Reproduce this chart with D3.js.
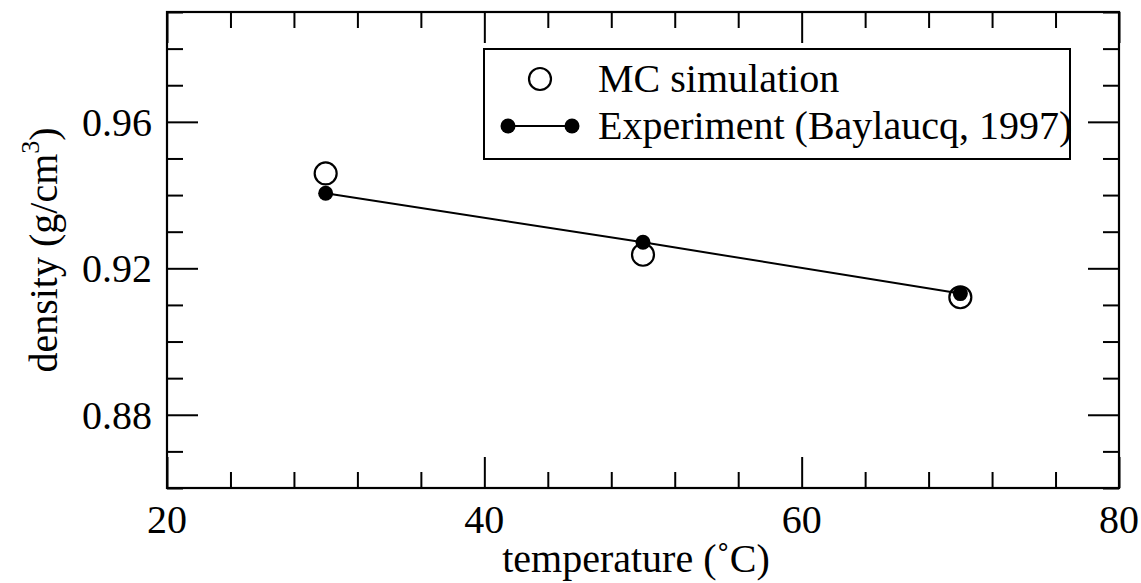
<!DOCTYPE html>
<html>
<head>
<meta charset="utf-8">
<script src="https://cdn.jsdelivr.net/npm/d3@7"></script>
<style>
html,body{margin:0;padding:0;background:#fff;}
svg{display:block;}
text{font-family:"Liberation Serif","Times New Roman",serif;fill:#000;}
</style>
</head>
<body>
<svg id="chart" width="1141" height="583"></svg>
<script>
// ---- data ----
const temperatures = [30, 50, 70];
const mcDensity = [0.9459, 0.9237, 0.9121];
const expDensity = [0.9405, 0.9271, 0.9131];
const xTickLabels = [20, 40, 60, 80];
const yTickLabels = [0.88, 0.92, 0.96];
const legendLabels = ["MC simulation", "Experiment (Baylaucq, 1997)"];

// ---- layout ----
const L = 167, R = 1119, T = 12, B = 488;
const svg = d3.select("#chart");

const x = d3.scaleLinear().domain([20, 80]).range([L, R]);
const y = d3.scaleLinear().domain([0.86, 0.99]).range([B, T]);

const xMinor = d3.range(20, 80.001, 4);
const yMinor = d3.range(0.86, 0.9901, 0.01).map(v => +v.toFixed(2));
const MAJ = 31, MIN = 16;

function tickGroup(axisFn, scale, values, size, transform) {
  const g = svg.append("g").attr("transform", transform)
    .call(axisFn(scale).tickValues(values).tickSize(size).tickFormat(""));
  g.select(".domain").remove();
  g.selectAll(".tick line").attr("stroke", "#000").attr("stroke-width", 2);
  return g;
}

const xMinorOnly = xMinor.filter(v => !xTickLabels.includes(v));
const yMinorOnly = yMinor.filter(v => !yTickLabels.some(m => Math.abs(m - v) < 1e-9));
// bottom / top (inward)
tickGroup(d3.axisBottom, x, xMinorOnly, -MIN, `translate(0,${B})`);
tickGroup(d3.axisBottom, x, xTickLabels, -MAJ, `translate(0,${B})`);
tickGroup(d3.axisTop, x, xMinorOnly, -MIN, `translate(0,${T})`);
tickGroup(d3.axisTop, x, xTickLabels, -MAJ, `translate(0,${T})`);
// left / right (inward)
tickGroup(d3.axisLeft, y, yMinorOnly, -MIN, `translate(${L},0)`);
tickGroup(d3.axisLeft, y, yTickLabels, -MAJ, `translate(${L},0)`);
tickGroup(d3.axisRight, y, yMinorOnly, -MIN, `translate(${R},0)`);
tickGroup(d3.axisRight, y, yTickLabels, -MAJ, `translate(${R},0)`);

// frame
svg.append("rect").attr("x", L).attr("y", T).attr("width", R - L).attr("height", B - T)
  .attr("fill", "none").attr("stroke", "#000").attr("stroke-width", 2.2);

// tick labels
svg.append("g").selectAll("text").data(xTickLabels).join("text")
  .attr("x", d => x(d)).attr("y", B + 45).attr("text-anchor", "middle")
  .attr("font-size", 40).text(d => d);
svg.append("g").selectAll("text").data(yTickLabels).join("text")
  .attr("x", L - 15).attr("y", d => y(d) + 14).attr("text-anchor", "end")
  .attr("font-size", 40).text(d => d.toFixed(2));

// axis titles
svg.append("text").attr("x", 636).attr("y", 572).attr("text-anchor", "middle")
  .attr("font-size", 40).text("temperature (\u02DAC)");
const yl = svg.append("text").attr("transform", `translate(57,${(T + B) / 2}) rotate(-90)`)
  .attr("text-anchor", "middle").attr("font-size", 40);
yl.append("tspan").text("density (g/cm");
yl.append("tspan").attr("font-size", 26).attr("dy", -18).text("3");
yl.append("tspan").attr("dy", 18).text(")");

// MC simulation (open circles)
svg.append("g").selectAll("circle").data(temperatures).join("circle")
  .attr("cx", d => x(d)).attr("cy", (d, i) => y(mcDensity[i])).attr("r", 11)
  .attr("fill", "none").attr("stroke", "#000").attr("stroke-width", 2.2);

// Experiment line + filled circles
const line = d3.line().x(d => x(d[0])).y(d => y(d[1]));
svg.append("path").datum(temperatures.map((t, i) => [t, expDensity[i]]))
  .attr("d", line).attr("fill", "none").attr("stroke", "#000").attr("stroke-width", 2);
svg.append("g").selectAll("circle").data(temperatures).join("circle")
  .attr("cx", d => x(d)).attr("cy", (d, i) => y(expDensity[i])).attr("r", 7.5)
  .attr("fill", "#000");

// legend
const lg = svg.append("g");
lg.append("rect").attr("x", 484).attr("y", 49).attr("width", 586).attr("height", 110)
  .attr("fill", "#fff").attr("stroke", "#000").attr("stroke-width", 2);
lg.append("circle").attr("cx", 540).attr("cy", 79).attr("r", 11)
  .attr("fill", "none").attr("stroke", "#000").attr("stroke-width", 2.2);
lg.append("text").attr("x", 598).attr("y", 92).attr("font-size", 40).text(legendLabels[0]);
lg.append("line").attr("x1", 508).attr("x2", 572).attr("y1", 126).attr("y2", 126)
  .attr("stroke", "#000").attr("stroke-width", 2);
[508, 572].forEach(cx => lg.append("circle").attr("cx", cx).attr("cy", 126).attr("r", 7.5).attr("fill", "#000"));
lg.append("text").attr("x", 598).attr("y", 139).attr("font-size", 40).text(legendLabels[1]);
</script>
</body>
</html>
